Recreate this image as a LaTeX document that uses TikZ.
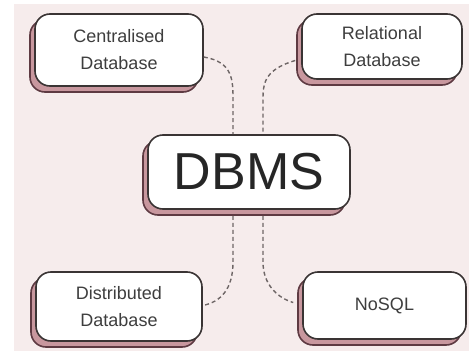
\documentclass[tikz,border=0pt]{standalone}
\usepackage{fontspec}
\setmainfont{Liberation Sans}
\usetikzlibrary{shadows,calc}
\definecolor{bgpink}{HTML}{F6ECEC}
\definecolor{shpink}{HTML}{C8979E}
\definecolor{shdark}{HTML}{5E3A42}
\definecolor{boxline}{HTML}{3A3434}
\definecolor{txt}{HTML}{3E3E3E}
\definecolor{conn}{HTML}{6E6666}
\tikzset{
  card/.style={draw=boxline, line width=1.6pt, fill=white, rounded corners=15pt,
    align=center, text=txt, font=\fontsize{18}{27}\selectfont, inner sep=0pt,
    copy shadow={shadow xshift=-5pt, shadow yshift=-6pt, fill=shpink, draw=shdark, line width=1.6pt}},
  link/.style={draw=conn, line width=1.4pt, dash pattern=on 4pt off 3pt}
}
\begin{document}
\begin{tikzpicture}[x=1pt,y=-1pt]
\useasboundingbox (0,0) rectangle (469,351);
\fill[bgpink] (14,4) rectangle (469,351);
\node[card, minimum width=168pt, minimum height=72pt] (cen) at (119,50) {Centralised\\Database};
\node[card, minimum width=160pt, minimum height=65pt] (rel) at (382,46.5) {Relational\\Database};
\node[card, minimum width=202pt, minimum height=74pt, text=black!85, font=\fontsize{52}{52}\selectfont] (dbms) at (249,172) {DBMS};
\node[card, minimum width=166pt, minimum height=69pt] (dis) at (119,306.5) {Distributed\\Database};
\node[card, minimum width=163pt, minimum height=67pt] (nos) at (384.5,305.5) {NoSQL};
\coordinate (tl) at ($(dbms.north)+(-16,0)$);
\coordinate (tr) at ($(dbms.north)+(14,0)$);
\coordinate (bl) at ($(dbms.south)+(-16,6)$);
\coordinate (br) at ($(dbms.south)+(14,6)$);
\draw[link] ($(cen.east)+(0,7)$) .. controls (233,62) and (233,80) .. (233,100) -- (tl);
\draw[link] ($(rel.west)+(-6,14)$) .. controls (263,70) and (263,85) .. (263,100) -- (tr);
\draw[link] (bl) -- (233,262) .. controls (233,290) and (220,302) .. ($(dis.east)+(0,-1)$);
\draw[link] (br) -- (263,262) .. controls (263,285) and (278,298) .. ($(nos.west)+(-9,-3)$);
\end{tikzpicture}
\end{document}
